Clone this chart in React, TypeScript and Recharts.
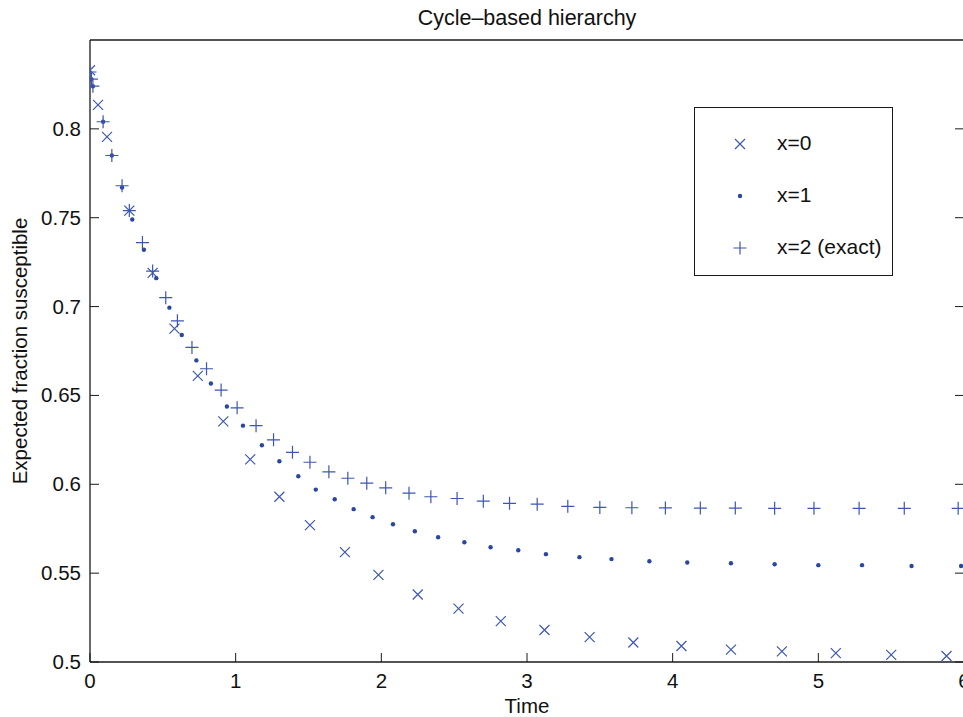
import { ScatterChart, Scatter, XAxis, YAxis, Legend, Label } from 'recharts'

// sample times and fractions, one pair of lists per series
const TIME_X0 = [0, 0.055, 0.117, 0.27, 0.43, 0.58, 0.74, 0.915, 1.1, 1.3, 1.51, 1.75, 1.98, 2.25, 2.53, 2.82, 3.12, 3.43, 3.73, 4.06, 4.4, 4.75, 5.12, 5.5, 5.88]
const FRAC_X0 = [0.833, 0.8135, 0.7955, 0.754, 0.719, 0.6876, 0.661, 0.6354, 0.614, 0.593, 0.577, 0.5618, 0.549, 0.538, 0.53, 0.523, 0.518, 0.514, 0.511, 0.509, 0.507, 0.506, 0.505, 0.504, 0.5034]

const TIME_X1 = [0.01, 0.02, 0.09, 0.15, 0.22, 0.29, 0.37, 0.455, 0.545, 0.63, 0.73, 0.83, 0.94, 1.05, 1.18, 1.3, 1.43, 1.55, 1.68, 1.81, 1.94, 2.08, 2.23, 2.39, 2.57, 2.75, 2.94, 3.13, 3.36, 3.58, 3.84, 4.1, 4.4, 4.7, 5.0, 5.3, 5.64, 5.98]
const FRAC_X1 = [0.828, 0.824, 0.804, 0.785, 0.767, 0.749, 0.732, 0.716, 0.6994, 0.684, 0.6697, 0.6567, 0.6438, 0.633, 0.622, 0.613, 0.6045, 0.597, 0.5916, 0.586, 0.5815, 0.5775, 0.5736, 0.5702, 0.5674, 0.5646, 0.5629, 0.5607, 0.559, 0.5579, 0.5567, 0.556, 0.5556, 0.555, 0.5545, 0.5545, 0.554, 0.554]

const TIME_X2 = [0, 0.01, 0.02, 0.09, 0.15, 0.22, 0.27, 0.36, 0.43, 0.52, 0.6, 0.7, 0.8, 0.9, 1.01, 1.14, 1.26, 1.39, 1.51, 1.64, 1.77, 1.9, 2.03, 2.19, 2.34, 2.52, 2.7, 2.88, 3.07, 3.28, 3.5, 3.72, 3.95, 4.19, 4.43, 4.7, 4.97, 5.28, 5.59, 5.96]
const FRAC_X2 = [0.832, 0.828, 0.824, 0.804, 0.785, 0.768, 0.754, 0.736, 0.72, 0.705, 0.692, 0.677, 0.665, 0.653, 0.643, 0.633, 0.625, 0.618, 0.6124, 0.607, 0.6034, 0.6006, 0.598, 0.595, 0.593, 0.592, 0.5905, 0.5893, 0.5888, 0.5876, 0.587, 0.5868, 0.5867, 0.5866, 0.5866, 0.5865, 0.5865, 0.5865, 0.5865, 0.5865]

const X_TICKS = [0, 1, 2, 3, 4, 5, 6]
const Y_TICKS = [0.5, 0.55, 0.6, 0.65, 0.7, 0.75, 0.8]

const SERIES_NAMES = ['x=0', 'x=1', 'x=2 (exact)']

const toPoints = (ts: number[], vs: number[]) => ts.map((t, i) => ({ t, v: vs[i] }))

const BLUE = '#3d57b0'
const DOT_BLUE = '#2a46a3'
const AXIS = '#1a1a1a'
const FONT = '"Liberation Sans", Arial, Helvetica, sans-serif'
const TICK_LEN = 9

const Cross = ({ cx, cy }: any) => (
    <path d={`M${cx - 5},${cy - 5}L${cx + 5},${cy + 5}M${cx - 5},${cy + 5}L${cx + 5},${cy - 5}`} stroke={BLUE} strokeWidth={1.2} fill="none" />
)
const Plus = ({ cx, cy }: any) => (
    <path d={`M${cx - 6.5},${cy}L${cx + 6.5},${cy}M${cx},${cy - 6.5}L${cx},${cy + 6.5}`} stroke={BLUE} strokeWidth={1.2} fill="none" />
)
const Dot = ({ cx, cy }: any) => <circle cx={cx} cy={cy} r={2.2} fill={DOT_BLUE} />

const SHAPES = [Cross, Dot, Plus]

// ticks point into the plot, MATLAB style
const BottomTick = ({ x, y, payload }: any) => (
    <g>
        <line x1={x} y1={y} x2={x} y2={y - TICK_LEN} stroke={AXIS} />
        <text x={x} y={y + 26} textAnchor="middle" fontSize={20.5} fontFamily={FONT} fill="#111">{payload.value}</text>
    </g>
)
const TopTick = ({ x, y }: any) => <line x1={x} y1={y} x2={x} y2={y + TICK_LEN} stroke={AXIS} />
const LeftTick = ({ x, y, payload }: any) => (
    <g>
        <line x1={x} y1={y} x2={x + TICK_LEN} y2={y} stroke={AXIS} />
        <text x={x - 9} y={y + 7} textAnchor="end" fontSize={20.5} fontFamily={FONT} fill="#111">{String(payload.value)}</text>
    </g>
)
const RightTick = ({ x, y }: any) => <line x1={x} y1={y} x2={x - TICK_LEN} y2={y} stroke={AXIS} />

const renderLegend = () => (
    <div style={{ width: 199, height: 169, border: `1.5px solid ${AXIS}`, boxSizing: 'border-box', background: '#fff', position: 'relative', fontFamily: FONT, fontSize: 21, color: '#111' }}>
        {SERIES_NAMES.map((name, i) => {
            const Shape = SHAPES[i]
            const top = 36 + i * 52
            return (
                <div key={name} style={{ position: 'absolute', left: 0, top: top - 14, height: 28, width: '100%' }}>
                    <svg width={40} height={28} style={{ position: 'absolute', left: 26, top: 0 }}>
                        <Shape cx={19} cy={14} />
                    </svg>
                    <span style={{ position: 'absolute', left: 82, top: 1, whiteSpace: 'nowrap' }}>{name}</span>
                </div>
            )
        })}
    </div>
)

const renderYLabel = ({ viewBox }: any) => {
    const cx = viewBox.x + 27
    const cy = viewBox.y + viewBox.height / 2
    return (
        <text x={cx} y={cy} transform={`rotate(-90, ${cx}, ${cy})`} textAnchor="middle" fontSize={20.5} fontFamily={FONT} fill="#111">
            Expected fraction susceptible
        </text>
    )
}

export default function App() {
    const series = [toPoints(TIME_X0, FRAC_X0), toPoints(TIME_X1, FRAC_X1), toPoints(TIME_X2, FRAC_X2)]
    return (
        <div style={{ position: 'absolute', left: 0, top: 0, width: 963, height: 717, overflow: 'hidden', background: '#fff' }}>
            <ScatterChart width={970} height={717} margin={{ top: 39, right: 5, bottom: 0, left: 0 }}>
                <XAxis dataKey="t" type="number" domain={[0, 6]} ticks={X_TICKS} allowDataOverflow height={55}
                    tickSize={0} tickMargin={0} tickLine={false} tick={BottomTick} axisLine={{ stroke: AXIS, strokeWidth: 1.3 }}>
                    <Label value="Time" position="insideBottom" offset={4} fontSize={20.5} fontFamily={FONT} fill="#111" />
                </XAxis>
                <XAxis xAxisId="top" orientation="top" type="number" domain={[0, 6]} ticks={X_TICKS} allowDataOverflow height={1}
                    tickSize={0} tickMargin={0} tickLine={false} tick={TopTick} axisLine={{ stroke: AXIS, strokeWidth: 1.3 }}>
                    <Label value="Cycle–based hierarchy" position="top" offset={14} fontSize={21.5} fontFamily={FONT} fill="#111" />
                </XAxis>
                <YAxis dataKey="v" type="number" domain={[0.5, 0.85]} ticks={Y_TICKS} allowDataOverflow width={90}
                    tickSize={0} tickMargin={0} tickLine={false} tick={LeftTick} axisLine={{ stroke: AXIS, strokeWidth: 1.3 }}>
                    <Label content={renderYLabel} />
                </YAxis>
                <YAxis yAxisId="right" orientation="right" type="number" domain={[0.5, 0.85]} ticks={Y_TICKS} allowDataOverflow width={1}
                    tickSize={0} tickMargin={0} tickLine={false} tick={RightTick} axisLine={{ stroke: AXIS, strokeWidth: 1.3 }} />
                {series.map((data, i) => (
                    <Scatter key={SERIES_NAMES[i]} name={SERIES_NAMES[i]} data={data} shape={SHAPES[i]} fill={BLUE} isAnimationActive={false} />
                ))}
                <Legend layout="vertical" align="center" verticalAlign="middle" content={renderLegend}
                    wrapperStyle={{ left: 694, top: 107, width: 199, height: 170 }} />
            </ScatterChart>
        </div>
    )
}
